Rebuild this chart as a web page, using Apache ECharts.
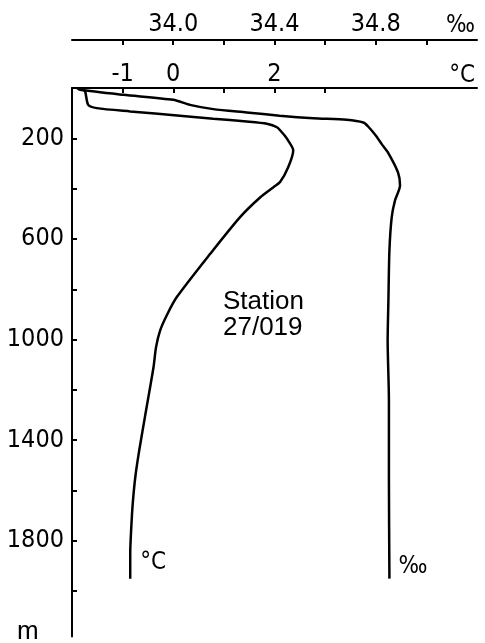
<!DOCTYPE html>
<html>
<head>
<meta charset="utf-8">
<script src="https://cdn.jsdelivr.net/npm/echarts@6/dist/echarts.min.js"></script>
<style>
  html, body { margin: 0; padding: 0; background: #ffffff; }
  #chart { width: 485px; height: 643px; }
</style>
</head>
<body>
<div id="chart"></div>
<script>
// Temperature profile, station 27/019: depth (m) and temperature (°C)
const tempDepth = [0, 14, 67, 80, 93, 110, 122, 133, 142, 156, 175, 189, 209, 248, 315, 374, 394, 434, 513, 659, 831, 900, 964, 1030, 1110, 1308, 1450, 1547, 1651, 1750, 1850, 1950];
const tempValue = [-1.80, -1.74, -1.68, -1.51, -0.85, 0.13, 0.79, 1.45, 1.85, 2.05, 2.14, 2.20, 2.27, 2.37, 2.27, 2.11, 1.98, 1.72, 1.32, 0.73, 0.07, -0.12, -0.26, -0.34, -0.39, -0.56, -0.68, -0.75, -0.80, -0.83, -0.85, -0.85];

// Salinity profile: depth (m) and salinity (‰)
const salDepth = [0, 7, 27, 47, 67, 84, 97, 110, 120, 126, 137, 153, 189, 225, 256, 336, 388, 447, 514, 646, 845, 1004, 1242, 1544, 1950];
const salValue = [33.62, 33.632, 33.803, 34.00, 34.066, 34.158, 34.29, 34.42, 34.553, 34.685, 34.751, 34.77, 34.80, 34.825, 34.848, 34.888, 34.896, 34.876, 34.863, 34.854, 34.85, 34.847, 34.852, 34.852, 34.854];

// Axis ticks and labels
const tempTicks = [-1, 0, 1, 2, 3];
const tempLabels = [-1, 0, 2];
const salTicks = [33.8, 34.0, 34.2, 34.4, 34.6, 34.8, 35.0];
const salLabels = [34.0, 34.4, 34.8];
const depthTicks = [200, 400, 600, 800, 1000, 1200, 1400, 1600, 1800, 2000];
const depthLabels = [200, 600, 1000, 1400, 1800];

const FONT = "'Liberation Sans Narrow', 'DejaVu Sans Condensed', 'Liberation Sans', sans-serif";
const INK = '#000000';

const chart = echarts.init(document.getElementById('chart'), null, { renderer: 'canvas' });

const axisBase = {
  type: 'value',
  position: 'top',
  splitLine: { show: false },
  axisLine: { show: true, onZero: false, lineStyle: { color: INK, width: 2 } },
  nameLocation: 'end',
  nameGap: -2
};

chart.setOption({
  animation: false,
  backgroundColor: '#ffffff',
  grid: { left: 72, right: 8, top: 88, bottom: 6.5, containLabel: false },
  xAxis: [
    Object.assign({}, axisBase, {
      min: -2, max: 6,
      name: '°C',
      nameTextStyle: { color: INK, fontFamily: FONT, fontSize: 24, align: 'right', verticalAlign: 'bottom', padding: [0, 0, 0, 0] },
      axisTick: { show: true, inside: true, length: 5, customValues: tempTicks, lineStyle: { color: INK, width: 2 } },
      axisLabel: { show: true, margin: 1, customValues: tempLabels, color: INK, fontFamily: FONT, fontSize: 25,
        formatter: v => String(v) }
    }),
    Object.assign({}, axisBase, {
      min: 33.6, max: 35.2,
      offset: 48,
      name: '‰',
      nameTextStyle: { color: INK, fontFamily: FONT, fontSize: 24, align: 'right', verticalAlign: 'bottom', padding: [0, 0, 2, 0] },
      axisTick: { show: true, inside: true, length: 5, customValues: salTicks, lineStyle: { color: INK, width: 2 } },
      axisLabel: { show: true, margin: 3, customValues: salLabels, color: INK, fontFamily: FONT, fontSize: 25,
        formatter: v => v.toFixed(1) }
    })
  ],
  yAxis: {
    type: 'value',
    inverse: true,
    min: 0, max: 2180,
    splitLine: { show: false },
    axisLine: { show: true, onZero: false, lineStyle: { color: INK, width: 2 } },
    axisTick: { show: true, inside: true, length: 5, customValues: depthTicks, lineStyle: { color: INK, width: 2 } },
    axisLabel: { show: true, margin: 8, customValues: depthLabels, color: INK, fontFamily: FONT, fontSize: 25,
      formatter: v => String(v) }
  },
  series: [
    {
      name: 'temperature',
      type: 'line',
      xAxisIndex: 0,
      data: tempDepth.map((d, i) => [tempValue[i], d]),
      showSymbol: false,
      smooth: 0.25,
      lineStyle: { color: INK, width: 2.5 },
      endLabel: { show: true, formatter: '°C', color: INK, fontFamily: FONT, fontSize: 24, offset: [2, -16] }
    },
    {
      name: 'salinity',
      type: 'line',
      xAxisIndex: 1,
      data: salDepth.map((d, i) => [salValue[i], d]),
      showSymbol: false,
      smooth: 0.25,
      lineStyle: { color: INK, width: 2.5 },
      endLabel: { show: true, formatter: '‰', color: INK, fontFamily: FONT, fontSize: 24, offset: [1, -12] }
    }
  ],
  graphic: [
    { type: 'text', left: 223, top: 289, style: { text: 'Station\n27/019', fill: INK, font: "26px 'Liberation Sans', sans-serif", lineHeight: 26 } },
    { type: 'text', left: 17, top: 619, style: { text: 'm', fill: INK, font: "26px 'Liberation Sans', sans-serif" } }
  ]
});
</script>
</body>
</html>
